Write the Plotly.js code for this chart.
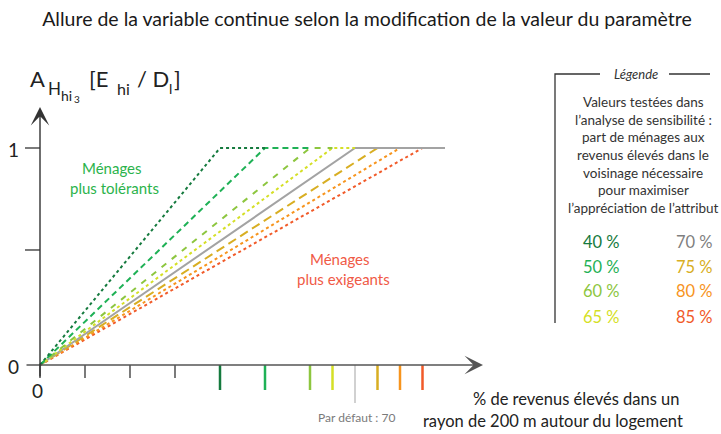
<!DOCTYPE html>
<html>
<head>
<meta charset="utf-8">
<script src="https://cdn.plot.ly/plotly-3.0.1.min.js"></script>
<style>
  html, body { margin: 0; padding: 0; background: #fff; }
  #chart { width: 721px; height: 434px; }
</style>
</head>
<body>
<div id="chart"></div>
<script>
// values
const thresholds = [40, 50, 60, 65, 70, 75, 80, 85];
const plateauEnds = [50, 60, 65, 70, 90, 75, 80, 85];
const pctLabels = thresholds.map(t => `${t} %`);
const xAxisTicks = [0, 10, 20, 30];
const yAxisTicks = [0.53, 1];
const defaultValue = 70;

const legendLines = [
    'Valeurs testées dans',
    'l’analyse de sensibilité :',
    'part de ménages aux',
    'revenus élevés dans le',
    'voisinage nécessaire',
    'pour maximiser',
    'l’appréciation de l’attribut'
];

// styles
const lineColors = ['#157a3e', '#1fb156', '#8dc63f', '#d5df26', '#a3a3a3', '#d8ae22', '#f7941d', '#f15a29'];
const labelColors = ['#157a3e', '#1fb156', '#8dc63f', '#d5df26', '#7f7f7f', '#d8ae22', '#f7941d', '#f15a29'];
const lineDashes = ['dot', '6px,4px', '6px,7px', 'dot', 'solid', '9px,5px', 'dot', 'dot'];

const W = 721, H = 434;
const FONT = 'Lato, "Open Sans", sans-serif';
// pixel -> data mapping used by the (hidden) axes
const ORIGIN_X = 40, ORIGIN_Y = 365, PX_PER_PCT = 4.5, PX_PER_UNIT = 217;
const dy = px => px / PX_PER_UNIT;
const dx = px => px / PX_PER_PCT;

const traces = thresholds.map((t, i) => ({
    x: [0, t, plateauEnds[i]],
    y: [0, 1, 1],
    type: 'scatter',
    mode: 'lines',
    line: { color: lineColors[i], width: 2, dash: lineDashes[i] },
    hoverinfo: 'skip'
}));
// lower values drawn last so their plateau shows
traces.reverse();
// grey default line goes above the 75/80/85 lines, below the lower ones
const greyIdx = traces.findIndex(tr => tr.x[1] === defaultValue);
const grey = traces.splice(greyIdx, 1)[0];
const firstLow = traces.findIndex(tr => tr.x[1] < defaultValue);
traces.splice(firstLow, 0, grey);

function txt(text, px, py, size, color, anchor) {
    return {
        text: text,
        xref: 'paper', yref: 'paper',
        x: px / W, y: 1 - py / H,
        xanchor: anchor || 'center', yanchor: 'middle',
        showarrow: false,
        font: { family: FONT, size: size, color: color }
    };
}

const annotations = [];

// axes with arrowheads
annotations.push({
    xref: 'x', yref: 'y', axref: 'x', ayref: 'y',
    x: dx(483 - ORIGIN_X), y: 0, ax: -dx(15), ay: 0,
    text: '', showarrow: true, arrowhead: 3, arrowsize: 2.2, arrowwidth: 1.4,
    arrowcolor: '#555555', standoff: 0, startstandoff: 0
});
annotations.push({
    xref: 'x', yref: 'y', axref: 'x', ayref: 'y',
    x: 0, y: dy(ORIGIN_Y - 107), ax: 0, ay: -dy(13),
    text: '', showarrow: true, arrowhead: 3, arrowsize: 2.2, arrowwidth: 1.4,
    arrowcolor: '#333333', standoff: 0, startstandoff: 0
});

// axis title pieces
annotations.push(txt('A', 28, 79, 22, '#222', 'left'));
annotations.push(txt('H', 46, 89, 17, '#222', 'left'));
annotations.push(txt('hi', 59, 95, 14, '#222', 'left'));
annotations.push(txt('3', 72, 99, 10, '#222', 'left'));
annotations.push(txt('[E', 87, 79, 22, '#222', 'left'));
annotations.push(txt('hi', 115, 88, 16, '#222', 'left'));
annotations.push(txt('/ D', 135, 79, 22, '#222', 'left'));
annotations.push(txt('l', 167, 88, 14, '#222', 'left'));
annotations.push(txt(']', 172, 79, 22, '#222', 'left'));

// tick labels
annotations.push(txt('1', 14, 150, 19, '#222'));
annotations.push(txt('0', 14, 366, 19, '#222'));
annotations.push(txt('0', 37, 390, 19, '#222'));

// in-plot comments
annotations.push(txt('Ménages', 112, 168, 15, '#2bb34b'));
annotations.push(txt('plus tolérants', 114, 188, 15, '#2bb34b'));
annotations.push(txt('Ménages', 340, 259, 15, '#f05a46'));
annotations.push(txt('plus exigeants', 343, 279, 15, '#f05a46'));

// x title and default marker
annotations.push(txt('% de revenus élevés dans un', 576, 399, 16.5, '#222'));
annotations.push(txt('rayon de 200 m autour du logement', 553, 421, 16.5, '#222'));
annotations.push(txt(`Par défaut : ${defaultValue}`, 356, 417, 12, '#7a7a7a'));

// legend
annotations.push(txt('<i>Légende</i>', 636, 74, 13, '#333'));
legendLines.forEach((line, i) => {
    annotations.push(txt(line, 643, 102 + i * 17.7, 13.5, '#333'));
});
pctLabels.forEach((lab, i) => {
    const col = i < 4 ? 601 : 694;
    const row = [242, 267, 291, 317][i % 4];
    annotations.push(txt(lab, col, row, 16.5, labelColors[i]));
});

const shapes = [];
// small black x ticks
xAxisTicks.forEach(v => shapes.push({
    type: 'line', xref: 'x', yref: 'y', x0: v, x1: v, y0: 0, y1: -dy(13),
    line: { color: '#333', width: 1.3 }
}));
// y ticks
yAxisTicks.forEach(v => shapes.push({
    type: 'line', xref: 'x', yref: 'y', x0: -dx(15), x1: 0, y0: v, y1: v,
    line: { color: '#333', width: 1.3 }
}));
// coloured ticks at tested values
thresholds.forEach((t, i) => {
    const isDefault = t === defaultValue;
    shapes.push({
        type: 'line', xref: 'x', yref: 'y', x0: t, x1: t, y0: 0,
        y1: -dy(isDefault ? 38 : 25),
        line: { color: lineColors[i], width: isDefault ? 1 : 2.5 }
    });
});
// legend bracket
const bracket = { color: '#333', width: 1.3 };
const P = (px, py) => `${(px - ORIGIN_X) / PX_PER_PCT},${(ORIGIN_Y - py) / PX_PER_UNIT}`;
shapes.push({ type: 'path', xref: 'x', yref: 'y', path: `M${P(600, 74)}L${P(555, 74)}L${P(555, 323)}`, line: bracket });
shapes.push({ type: 'path', xref: 'x', yref: 'y', path: `M${P(669, 74)}L${P(710, 74)}`, line: bracket });

const layout = {
    width: W, height: H,
    margin: { l: 0, r: 0, t: 0, b: 0 },
    paper_bgcolor: '#ffffff', plot_bgcolor: '#ffffff',
    showlegend: false,
    title: {
        text: 'Allure de la variable continue selon la modification de la valeur du paramètre',
        x: 367 / W, xanchor: 'center', y: 1 - 19 / H, yanchor: 'middle', yref: 'container',
        font: { family: FONT, size: 19.5, color: '#1a1a1a' }
    },
    xaxis: { visible: false, range: [-dx(ORIGIN_X), dx(W - ORIGIN_X)], fixedrange: true },
    yaxis: { visible: false, range: [-dy(H - ORIGIN_Y), dy(ORIGIN_Y)], fixedrange: true },
    annotations: annotations,
    shapes: shapes,
    hovermode: false
};

Plotly.newPlot('chart', traces, layout, { staticPlot: true, displayModeBar: false });
</script>
</body>
</html>
